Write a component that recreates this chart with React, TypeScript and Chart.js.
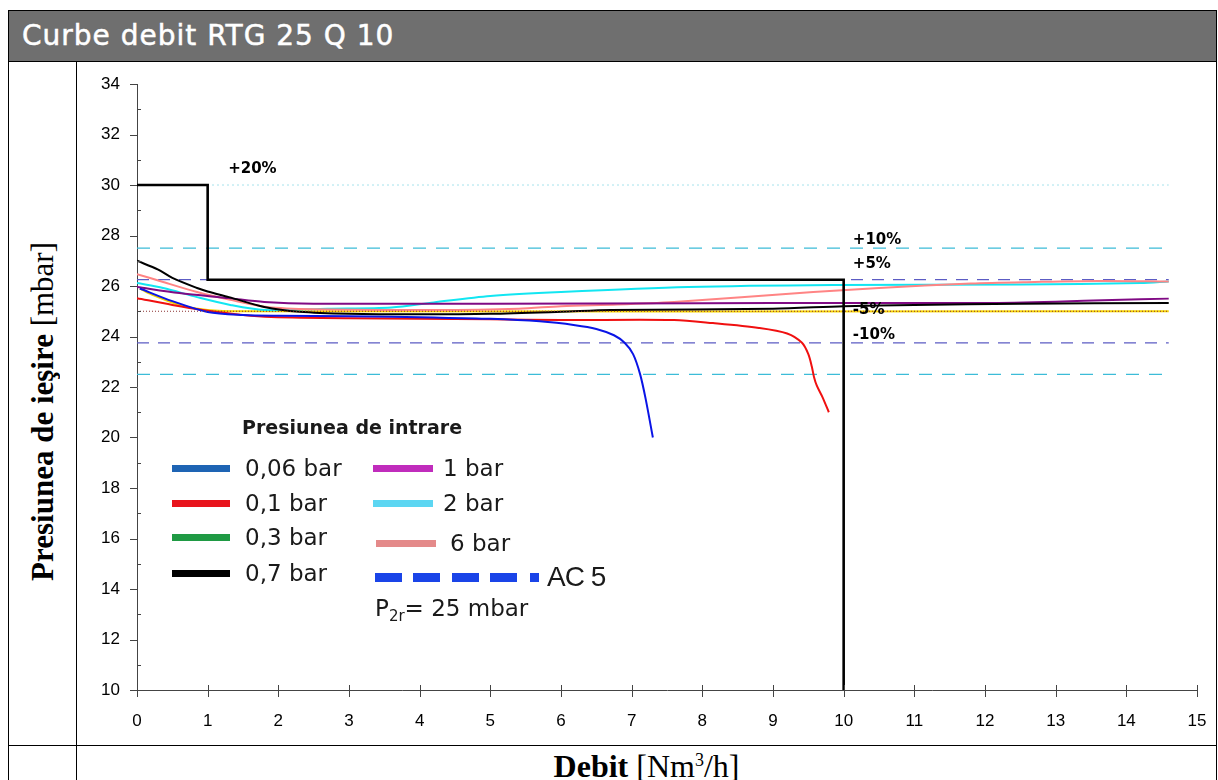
import React, { useEffect, useRef } from "react";
import { Chart, registerables } from "chart.js";

Chart.register(...registerables);

// ---------- data ----------
const xTickValues = [0, 1, 2, 3, 4, 5, 6, 7, 8, 9, 10, 11, 12, 13, 14, 15];
const yMajorTicks = [10, 12, 14, 16, 18, 20, 22, 24, 26, 28, 30, 32, 34];
const yMinorTicks = [11, 13, 15, 17, 19, 21, 23, 25, 27, 29, 31, 33];

// AC 5 envelope (black step line)
const envFlow = [0, 1, 1, 10, 10];
const envP = [30, 30, 26.25, 26.25, 10];

// Tolerance reference levels
const refLevels = [30, 27.5, 26.25, 25, 23.75, 22.5];
const refFlowStart = 0;
const refFlowEnd = 14.6;

// Tolerance labels
const refLabels = ["+20%", "+10%", "+5%", "-5%", "-10%"];
const refLabelFlow = [1.29, 10.13, 10.13, 10.13, 10.13];
const refLabelP = [30.63, 27.82, 26.87, 25.05, 24.06];

// Inlet pressure curves
const flow006 = [0.04, 0.5, 1.0, 1.5, 2, 3, 4.2, 5.0, 5.7, 6.2, 6.5, 6.75, 6.9, 7.02, 7.12, 7.2, 7.3];
const p006 = [25.9, 25.4, 24.97, 24.85, 24.82, 24.8, 24.75, 24.7, 24.6, 24.45, 24.3, 24.05, 23.75, 23.3, 22.5, 21.5, 20.0];

const flow01 = [0, 0.5, 0.93, 1.5, 1.9, 3, 5, 6, 7.6, 8.15, 8.8, 9.2, 9.41, 9.5, 9.55, 9.58, 9.62, 9.7, 9.79];
const p01 = [25.52, 25.25, 25.05, 24.85, 24.77, 24.72, 24.68, 24.65, 24.65, 24.53, 24.34, 24.12, 23.75, 23.3, 22.8, 22.4, 22.05, 21.6, 21.0];

const flow03 = [0.04, 0.16, 0.6, 1.0, 1.5, 14.6];
const p03 = [25.9, 25.72, 25.25, 25.05, 25.0, 25.0];

const flow07 = [0, 0.3, 0.5, 0.85, 1.0, 1.3, 1.8, 2.3, 3, 4, 5, 6, 6.7, 9, 10, 11, 12.5, 14.6];
const p07 = [27.0, 26.65, 26.32, 25.92, 25.78, 25.56, 25.17, 24.98, 24.9, 24.88, 24.9, 24.98, 25.05, 25.1, 25.2, 25.25, 25.3, 25.33];

const flow1 = [0, 0.6, 1.3, 1.8, 2.5, 5, 8, 10, 12, 13, 13.8, 14.6];
const p1 = [25.96, 25.72, 25.52, 25.37, 25.3, 25.3, 25.32, 25.33, 25.33, 25.38, 25.45, 25.5];

const flow2 = [0, 0.37, 0.85, 1.32, 1.8, 2.7, 3.6, 4.2, 5.0, 6.0, 7.8, 9.85, 12.5, 14.2, 14.6];
const p2 = [26.12, 25.92, 25.56, 25.25, 25.05, 25.1, 25.15, 25.35, 25.6, 25.76, 25.96, 26.04, 26.06, 26.12, 26.18];

const flow6 = [0, 0.37, 0.85, 1.32, 1.84, 2.5, 4.2, 5.4, 6.0, 6.8, 7.6, 8.6, 9.57, 10.5, 11.8, 12.7, 13.6, 14.6];
const p6 = [26.47, 26.16, 25.76, 25.45, 25.17, 25.08, 25.05, 25.1, 25.2, 25.27, 25.37, 25.56, 25.76, 25.92, 26.1, 26.16, 26.2, 26.18];

// Legend
const legendCol1 = ["0,06 bar", "0,1 bar", "0,3 bar", "0,7 bar"];
const legendCol2 = ["1 bar", "2 bar", "6 bar"];
const legendAC = "AC 5";

// ---------- styles ----------
const legendColors1 = ["#1e64b4", "#e8141c", "#1f9a44", "#000000"];
const legendColors2 = ["#c02cbc", "#5cd6f2", "#e48a8a"];
const refStyles = [
  { color: "#a6e2ec", dash: [2, 3], width: 1 },
  { color: "#3cbcd8", dash: [13, 10], width: 1.2 },
  { color: "#5c5cc4", dash: [12, 9], width: 1.2 },
  { color: "#8b3030", dash: [1, 2], width: 1 },
  { color: "#5c5cc4", dash: [12, 9], width: 1.2 },
  { color: "#3cbcd8", dash: [13, 10], width: 1.2 },
];

const toPts = (xs: number[], ys: number[]) => xs.map((x, i) => ({ x, y: ys[i] }));

const tickPlugin = {
  id: "customTicks",
  afterDraw(chart: any) {
    const { ctx } = chart;
    const x = chart.scales.x;
    const y = chart.scales.y;
    ctx.save();
    ctx.strokeStyle = "#444";
    ctx.lineWidth = 1;
    ctx.beginPath();
    xTickValues.forEach((v) => {
      const px = Math.round(x.getPixelForValue(v)) + 0.5;
      ctx.moveTo(px, y.bottom - 5);
      ctx.lineTo(px, y.bottom + 7);
    });
    yMajorTicks.forEach((v) => {
      const py = Math.round(y.getPixelForValue(v)) + 0.5;
      ctx.moveTo(x.left - 7, py);
      ctx.lineTo(x.left, py);
    });
    yMinorTicks.forEach((v) => {
      const py = Math.round(y.getPixelForValue(v)) + 0.5;
      ctx.moveTo(x.left, py);
      ctx.lineTo(x.left + 4, py);
    });
    ctx.stroke();
    // percent labels
    ctx.fillStyle = "#000";
    ctx.font = "bold 15px 'DejaVu Sans'";
    ctx.textAlign = "left";
    ctx.textBaseline = "middle";
    refLabels.forEach((t, i) => {
      ctx.fillText(t, x.getPixelForValue(refLabelFlow[i]), y.getPixelForValue(refLabelP[i]));
    });
    ctx.restore();
  },
};

function ChartCanvas() {
  const ref = useRef<HTMLCanvasElement | null>(null);
  useEffect(() => {
    if (!ref.current) return;
    const curve = (label: string, xs: number[], ys: number[], color: string, width = 2) => ({
      label,
      data: toPts(xs, ys),
      borderColor: color,
      borderWidth: width,
      pointRadius: 0,
      showLine: true,
      tension: 0.3,
      fill: false,
    });
    const refSets = refLevels.map((lvl, i) => ({
      label: "ref" + lvl,
      data: [
        { x: refFlowStart, y: lvl },
        { x: refFlowEnd, y: lvl },
      ],
      borderColor: refStyles[i].color,
      borderDash: refStyles[i].dash,
      borderWidth: refStyles[i].width,
      pointRadius: 0,
      showLine: true,
      fill: false,
    }));
    const ref25 = refSets[3];
    const others = refSets.filter((_, i) => i !== 3);
    const chart = new Chart(ref.current, {
      type: "scatter",
      data: {
        datasets: [
          {
            label: "AC5",
            data: toPts(envFlow, envP),
            borderColor: "#000",
            borderWidth: 2.6,
            pointRadius: 0,
            showLine: true,
            tension: 0,
            fill: false,
          } as any,
          ref25,
          curve("0,7 bar", flow07, p07, "#000000"),
          curve("0,06 bar", flow006, p006, "#0a14e6"),
          curve("0,1 bar", flow01, p01, "#f01010"),
          curve("1 bar", flow1, p1, "#800a84"),
          curve("6 bar", flow6, p6, "#ff8484"),
          curve("2 bar", flow2, p2, "#12e6f2"),
          curve("0,3 bar", flow03, p03, "#f5d400"),
          ...others,
        ],
      },
      options: {
        animation: false,
        responsive: true,
        maintainAspectRatio: false,
        layout: { padding: { left: 0, right: 18, top: 22, bottom: 0 } },
        plugins: { legend: { display: false }, tooltip: { enabled: false } },
        scales: {
          x: {
            type: "linear",
            min: 0,
            max: 15,
            afterFit(s: any) {
              s.height = 55;
            },
            ticks: {
              stepSize: 1,
              padding: 0,
              color: "#000",
              font: { family: "'Liberation Sans', Arial", size: 17 },
            },
            grid: {
              display: true,
              drawOnChartArea: false,
              drawTicks: true,
              tickLength: 21,
              tickColor: "rgba(0,0,0,0)",
            },
            border: { display: true, color: "#444", width: 1 },
          },
          y: {
            type: "linear",
            min: 10,
            max: 34,
            afterFit(s: any) {
              s.width = 60;
            },
            ticks: {
              stepSize: 2,
              padding: 0,
              color: "#000",
              font: { family: "'Liberation Sans', Arial", size: 17 },
            },
            grid: {
              display: true,
              drawOnChartArea: false,
              drawTicks: true,
              tickLength: 17,
              tickColor: "rgba(0,0,0,0)",
            },
            border: { display: true, color: "#444", width: 1 },
          },
        },
      } as any,
      plugins: [tickPlugin],
    });
    return () => chart.destroy();
  }, []);
  return <canvas ref={ref} />;
}

const legendFont = "'DejaVu Sans', sans-serif";

function LegendItem(props: { lineX: number; lineW: number; textX: number; y: number; color: string; label: string }) {
  const { lineX, lineW, textX, y, color, label } = props;
  return (
    <>
      <div style={{ position: "absolute", left: lineX, top: y - 3.5, width: lineW, height: 7, background: color }} />
      <div
        style={{
          position: "absolute",
          left: textX,
          top: y - 16,
          height: 32,
          lineHeight: "32px",
          fontFamily: legendFont,
          fontSize: 23,
          color: "#1a1a1a",
          whiteSpace: "nowrap",
        }}
      >
        {label}
      </div>
    </>
  );
}

export default function App() {
  const col1Y = [468, 503, 537, 573];
  const col2Y = [468, 503, 543];
  return (
    <div style={{ position: "absolute", left: 0, top: 0, width: 1218, height: 780, overflow: "hidden", background: "#fff" }}>
      {/* frame */}
      <div style={{ position: "absolute", left: 8, top: 10, width: 1207, height: 775, border: "1px solid #000" }} />
      {/* header */}
      <div
        style={{
          position: "absolute",
          left: 9,
          top: 11,
          width: 1207,
          height: 50,
          background: "#6f6f6f",
          borderBottom: "1px solid #000",
        }}
      />
      <div
        style={{
          position: "absolute",
          left: 22,
          top: 11,
          height: 50,
          lineHeight: "50px",
          fontFamily: legendFont,
          fontSize: 28,
          letterSpacing: 1,
          color: "#fff",
          whiteSpace: "nowrap",
          WebkitTextStroke: "0.5px #fff",
        }}
      >
        Curbe debit RTG 25 Q 10
      </div>
      {/* dividers */}
      <div style={{ position: "absolute", left: 76, top: 62, width: 1, height: 720, background: "#000" }} />
      <div style={{ position: "absolute", left: 8, top: 745, width: 1208, height: 1, background: "#000" }} />
      {/* y title */}
      <div
        style={{
          position: "absolute",
          left: 9,
          top: 70,
          width: 67,
          height: 683,
          display: "flex",
          alignItems: "center",
          justifyContent: "center",
        }}
      >
        <div
          style={{
            writingMode: "vertical-rl",
            transform: "rotate(180deg)",
            fontFamily: "'Liberation Serif', serif",
            fontSize: 31,
            whiteSpace: "nowrap",
            color: "#000",
          }}
        >
          <b>Presiunea de ieşire</b> [mbar]
        </div>
      </div>
      {/* chart */}
      <div style={{ position: "absolute", left: 77, top: 62, width: 1138, height: 683 }}>
        <ChartCanvas />
      </div>
      {/* x title */}
      <div
        style={{
          position: "absolute",
          left: 77,
          top: 748,
          width: 1139,
          height: 36,
          display: "flex",
          alignItems: "center",
          justifyContent: "center",
          fontFamily: "'Liberation Serif', serif",
          fontSize: 32,
          color: "#000",
          whiteSpace: "nowrap",
        }}
      >
        <span>
          <b>Debit</b> [Nm<sup style={{ fontSize: 18, verticalAlign: "11px" }}>3</sup>/h]
        </span>
      </div>
      {/* legend */}
      <div
        style={{
          position: "absolute",
          left: 242,
          top: 414,
          height: 26,
          lineHeight: "26px",
          fontFamily: legendFont,
          fontWeight: "bold",
          fontSize: 19,
          color: "#1a1a1a",
          whiteSpace: "nowrap",
        }}
      >
        Presiunea de intrare
      </div>
      {legendCol1.map((l, i) => (
        <LegendItem key={l} lineX={172} lineW={58} textX={245} y={col1Y[i]} color={legendColors1[i]} label={l} />
      ))}
      {legendCol2.map((l, i) => (
        <LegendItem
          key={l}
          lineX={i === 2 ? 376 : 373}
          lineW={60}
          textX={i === 2 ? 450 : 443}
          y={col2Y[i]}
          color={legendColors2[i]}
          label={l}
        />
      ))}
      {[375, 413, 452, 490, 530].map((lx, i) => (
        <div
          key={"d" + i}
          style={{ position: "absolute", left: lx, top: 573, width: i === 4 ? 9 : 27, height: 9, background: "#1a44e8" }}
        />
      ))}
      <div
        style={{
          position: "absolute",
          left: 547,
          top: 560,
          height: 34,
          lineHeight: "34px",
          fontFamily: "'Liberation Sans', Arial",
          fontSize: 28,
          color: "#1a1a1a",
          whiteSpace: "nowrap",
          letterSpacing: -1,
        }}
      >
        {legendAC}
      </div>
      <div
        style={{
          position: "absolute",
          left: 375,
          top: 592,
          height: 32,
          lineHeight: "32px",
          fontFamily: legendFont,
          fontSize: 23,
          color: "#1a1a1a",
          whiteSpace: "nowrap",
        }}
      >
        P<sub style={{ fontSize: 15, verticalAlign: "-5px" }}>2r</sub>= 25 mbar
      </div>
    </div>
  );
}
